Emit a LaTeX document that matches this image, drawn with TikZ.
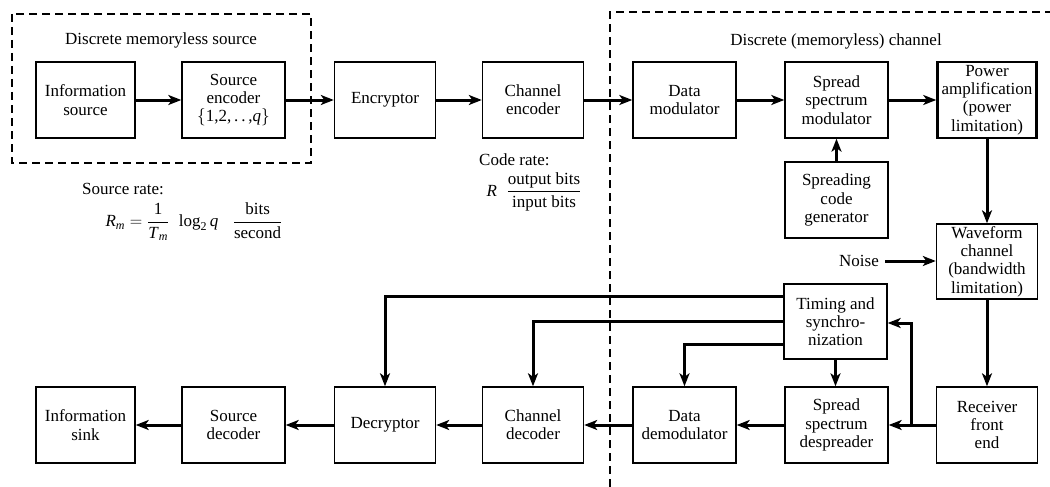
\documentclass[tikz,border=0pt]{standalone}
\usepackage{fontspec}
\setmainfont{Liberation Serif}
\usetikzlibrary{arrows.meta}
\tikzset{
  txt/.style={font=\fontsize{17}{18.3}\selectfont, align=center, inner sep=0pt},
  block/.style={txt, draw, line width=1.4pt, minimum width=101pt, minimum height=76pt},
  heavyblock/.style={block, line width=2.5pt},
  flow/.style={line width=3pt, -{Stealth[length=13pt,width=10pt,inset=3.5pt]}},
  region/.style={line width=1.3pt, dash pattern=on 8pt off 5pt},
}
\newcommand{\sm}[1]{\mbox{\fontsize{12}{12}\selectfont #1}}
\begin{document}
\begin{tikzpicture}[x=1pt,y=-1pt]
\useasboundingbox (0,0) rectangle (1050,487);

% dashed regions
\draw[region] (12,14) rectangle (311,163);
\draw[region] (610,487) -- (610,12) -- (1050,12);
\node[txt] (srclbl) at (161,40) {Discrete memoryless source};
\node[txt] (chlbl) at (836,41) {Discrete (memoryless) channel};

% transmit chain
\node[block, minimum width=99pt] (isrc) at (85.5,100) {Information\\source};
\node[block, minimum width=103pt] (senc) at (233.5,100) {Source\\encoder\\$\{$1,2,\,.\,.\,,\textit{q}$\}$};
\node[block] (encr) at (385,100) {Encryptor};
\node[block] (cenc) at (533,100) {Channel\\encoder};
\node[block, minimum width=103pt] (dmod) at (684.5,100) {Data\\modulator};
\node[block, minimum width=103pt] (ssmod) at (836.5,100) {Spread\\spectrum\\modulator};
\node[heavyblock, minimum width=99pt] (pamp) at (987,100) {Power\\amplification\\(power\\limitation)};
\node[block, minimum width=103pt] (scg) at (836.5,200) {Spreading\\code\\generator};
\node[block, minimum width=101pt, minimum height=75pt] (wave) at (987,261.5) {Waveform\\channel\\(bandwidth\\limitation)};
\node[txt, anchor=east] (noise) at (879,261) {Noise};

% receive chain
\node[block, minimum width=103pt, minimum height=75pt] (timing) at (835.5,321.5) {Timing and\\synchro-\\nization};
\node[block] (rfe) at (987,425) {Receiver\\front\\end};
\node[block, minimum width=103pt] (ssdes) at (836.5,425) {Spread\\spectrum\\despreader};
\node[block, minimum width=103pt] (ddem) at (684.5,425) {Data\\demodulator};
\node[block] (cdec) at (533,425) {Channel\\decoder};
\node[block] (decr) at (385,425) {Decryptor};
\node[block, minimum width=103pt] (sdec) at (233.5,425) {Source\\decoder};
\node[block, minimum width=99pt] (isink) at (85.5,425) {Information\\sink};

% rate annotations
\node[txt, anchor=west] (srate) at (82,189) {Source rate:};
\node[txt] (sformula) at (194,222) {$\displaystyle
  \mbox{\textit{R}}_{\sm{\textit{m}}} = \frac{\mbox{1}}{\mbox{\textit{T}}_{\sm{\textit{m}}}}\;\;
  \mbox{log}_{\sm{2}}\,\mbox{\textit{q}}\;\;\;\frac{\mbox{bits}}{\mbox{second}}$};
\node[txt, anchor=west] (crate) at (479,160) {Code rate:};
\node[txt] (cformula) at (534,192) {$\displaystyle
  \mbox{\textit{R}}\;\;\frac{\mbox{output bits}}{\mbox{input bits}}$};

% forward connectors
\draw[flow] (isrc) -- (senc);
\draw[flow] (senc) -- (encr);
\draw[flow] (encr) -- (cenc);
\draw[flow] (cenc) -- (dmod);
\draw[flow] (dmod) -- (ssmod);
\draw[flow] (ssmod) -- (pamp);
\draw[flow] (scg) -- (ssmod);
\draw[flow] (pamp) -- (wave);
\draw[flow] ([xshift=6pt]noise.east) -- (wave.west |- noise.east);
\draw[flow] (wave) -- (rfe);

% return connectors
\draw[flow] (rfe) -- (ssdes);
\coordinate (tap) at (911,425);
\draw[flow] (tap) |- ([yshift=-1.5pt]timing.east);
\draw[flow] (ssdes) -- (ddem);
\draw[flow] (ddem) -- (cdec);
\draw[flow] (cdec) -- (decr);
\draw[flow] (decr) -- (sdec);
\draw[flow] (sdec) -- (isink);

% timing distribution
\draw[flow] (timing.south) -- (timing.south |- ssdes.north);
\draw[flow] ([yshift=25.5pt]timing.west) -| (decr.north);
\draw[flow] (timing.west) -| (cdec.north);
\draw[flow] ([yshift=-22.5pt]timing.west) -| (ddem.north);
\end{tikzpicture}
\end{document}
